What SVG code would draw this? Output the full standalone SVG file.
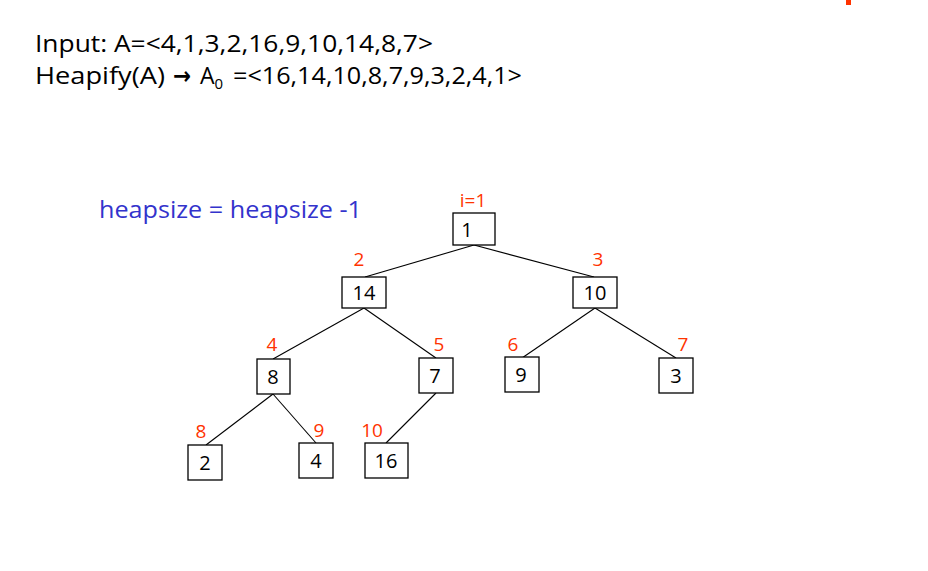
<svg xmlns="http://www.w3.org/2000/svg" width="928" height="571" viewBox="0 0 928 571">
  <style>
    .hdr { font-family: "Open Sans", "Liberation Sans", sans-serif; font-size: 23px; fill: #000; }
    .arrow { font-family: "DejaVu Sans", sans-serif; font-weight: bold; }
    .note { font-family: "Open Sans", "Liberation Sans", sans-serif; font-size: 24px; fill: #3333cc; }
    .idx { font-family: "Open Sans", "Liberation Sans", sans-serif; font-size: 19px; fill: #ff3300; text-anchor: middle; }
    .box { fill: #fff; stroke: #000; stroke-width: 1.3; }
    .val { font-family: "Open Sans", "Liberation Sans", sans-serif; font-size: 20px; fill: #000; text-anchor: middle; }
    .edge { stroke: #000; stroke-width: 1.1; fill: none; }
  </style>

  <rect width="928" height="571" fill="#fff"/>
  <rect x="846" y="0" width="5" height="5" fill="#ff3300"/>

  <!-- header lines -->
  <text class="hdr" x="35" y="52" textLength="398" lengthAdjust="spacingAndGlyphs">Input: A=&lt;4,1,3,2,16,9,10,14,8,7&gt;</text>
  <text class="hdr" x="35" y="84"><tspan textLength="130" lengthAdjust="spacingAndGlyphs">Heapify(A)</tspan><tspan class="arrow" x="173" font-size="24" textLength="18" lengthAdjust="spacingAndGlyphs">→</tspan><tspan x="200">A</tspan><tspan font-size="15" dy="5">0</tspan><tspan dy="-5" x="233" textLength="289" lengthAdjust="spacingAndGlyphs">=&lt;16,14,10,8,7,9,3,2,4,1&gt;</tspan></text>

  <text class="note" x="99" y="218" textLength="263" lengthAdjust="spacingAndGlyphs">heapsize = heapsize -1</text>

  <!-- tree edges -->
  <g id="edges">
    <line class="edge" x1="474" y1="245" x2="365" y2="277"/>
    <line class="edge" x1="474" y1="245" x2="594" y2="277"/>
    <line class="edge" x1="364" y1="308" x2="273" y2="359"/>
    <line class="edge" x1="364" y1="308" x2="436" y2="358"/>
    <line class="edge" x1="595" y1="308" x2="522" y2="358"/>
    <line class="edge" x1="595" y1="308" x2="676" y2="358"/>
    <line class="edge" x1="273" y1="394" x2="206" y2="445"/>
    <line class="edge" x1="273" y1="394" x2="316" y2="443"/>
    <line class="edge" x1="436" y1="393" x2="386" y2="443"/>
  </g>

  <!-- heap nodes -->
  <g id="n1">
    <rect class="box" x="453" y="213" width="42" height="32"/>
    <text class="val" x="467" y="237">1</text>
    <text class="idx" x="473" y="207">i=1</text>
  </g>
  <g id="n2">
    <rect class="box" x="342" y="277" width="44" height="31"/>
    <text class="val" x="364" y="300">14</text>
    <text class="idx" x="359" y="266">2</text>
  </g>
  <g id="n3">
    <rect class="box" x="573" y="277" width="44" height="31"/>
    <text class="val" x="595" y="300">10</text>
    <text class="idx" x="598" y="266">3</text>
  </g>
  <g id="n4">
    <rect class="box" x="257" y="359" width="33" height="35"/>
    <text class="val" x="273" y="384">8</text>
    <text class="idx" x="272" y="351">4</text>
  </g>
  <g id="n5">
    <rect class="box" x="419" y="358" width="34" height="35"/>
    <text class="val" x="435" y="383">7</text>
    <text class="idx" x="439" y="351">5</text>
  </g>
  <g id="n6">
    <rect class="box" x="505" y="357" width="34" height="35"/>
    <text class="val" x="521" y="382">9</text>
    <text class="idx" x="513" y="351">6</text>
  </g>
  <g id="n7">
    <rect class="box" x="659" y="358" width="34" height="35"/>
    <text class="val" x="676" y="383">3</text>
    <text class="idx" x="683" y="351">7</text>
  </g>
  <g id="n8">
    <rect class="box" x="188" y="445" width="34" height="35"/>
    <text class="val" x="205" y="470">2</text>
    <text class="idx" x="201" y="438">8</text>
  </g>
  <g id="n9">
    <rect class="box" x="299" y="443" width="34" height="35"/>
    <text class="val" x="316" y="468">4</text>
    <text class="idx" x="319" y="437">9</text>
  </g>
  <g id="n10">
    <rect class="box" x="365" y="443" width="43" height="35"/>
    <text class="val" x="386" y="468">16</text>
    <text class="idx" x="372" y="437">10</text>
  </g>
</svg>
